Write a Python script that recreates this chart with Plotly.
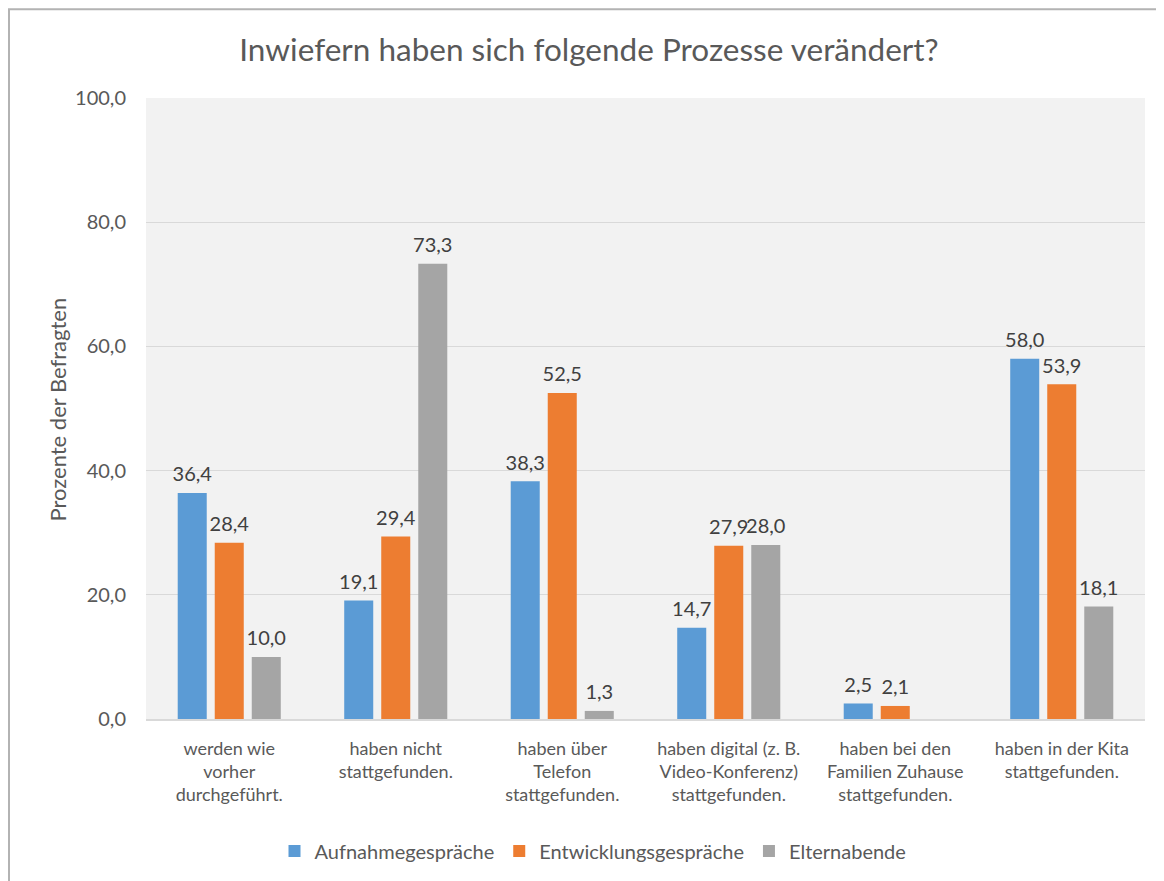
import plotly.graph_objects as go

categories = [
    "werden wie<br>vorher<br>durchgeführt.",
    "haben nicht<br>stattgefunden.",
    "haben über<br>Telefon<br>stattgefunden.",
    "haben digital (z. B.<br>Video-Konferenz)<br>stattgefunden.",
    "haben bei den<br>Familien Zuhause<br>stattgefunden.",
    "haben in der Kita<br>stattgefunden.",
]
aufnahme = [36.4, 19.1, 38.3, 14.7, 2.5, 58.0]
entwicklung = [28.4, 29.4, 52.5, 27.9, 2.1, 53.9]
elternabende = [10.0, 73.3, 1.3, 28.0, None, 18.1]
series_names = ["Aufnahmegespräche", "Entwicklungsgespräche", "Elternabende"]
colors = ["#5b9bd5", "#ed7d31", "#a5a5a5"]

FONT = "Lato"
TXT = "#595959"

# page body has an 8px offset; compensate
OFF = 8
W, H = 1164 - OFF, 881 - OFF
L, T, R, B = 146 - OFF, 98 - OFF, 19, 161
PW, PH = W - L - R, H - T - B

fig = go.Figure()
for i, (name, vals, col) in enumerate(zip(series_names, [aufnahme, entwicklung, elternabende], colors)):
    fig.add_trace(go.Bar(
        x=categories, y=vals, name=name, marker_color=col,
        marker_line_width=0, offsetgroup=str(i),
    ))
for i, (name, vals) in enumerate(zip(series_names, [aufnahme, entwicklung, elternabende])):
    fig.add_trace(go.Scatter(
        x=categories, y=vals, name=name, mode="markers+text",
        offsetgroup=str(i), showlegend=False, hoverinfo="skip",
        marker=dict(size=9, color="rgba(0,0,0,0)"),
        texttemplate="%{y:.1f}", textposition="top center",
        textfont=dict(family=FONT, size=20, color="#404040"),
        cliponaxis=False,
    ))

fig.update_layout(
    width=W, height=H,
    margin=dict(l=L, r=R, t=T, b=B),
    paper_bgcolor="white", plot_bgcolor="#f2f2f2",
    separators=",.",
    barmode="group", bargap=0.333, bargroupgap=0.216,
    scattermode="group", scattergap=0.333,
    font=dict(family=FONT, color=TXT, size=18),
    title=dict(text="Inwiefern haben sich folgende Prozesse verändert?",
               x=(589 - OFF) / W, xref="container", xanchor="center",
               y=1 - (50 - OFF) / H, yref="container", yanchor="middle",
               font=dict(family=FONT, size=31.5, color=TXT)),
    legend=dict(orientation="h", x=(593 - 146) / PW, xanchor="center",
                y=(720 - 851) / PH, yanchor="middle",
                font=dict(family=FONT, size=20, color=TXT), traceorder="normal",
                bgcolor="rgba(0,0,0,0)"),
    showlegend=True,
)
fig.update_yaxes(range=[0, 100], dtick=20, tickformat=".1f",
                 gridcolor="#d9d9d9", gridwidth=1, zeroline=False,
                 showline=False, ticks="", ticklabelstandoff=19,
                 tickfont=dict(family=FONT, size=20, color=TXT))
fig.update_xaxes(showline=True, linecolor="#d9d9d9", linewidth=2, ticks="",
                 ticklabelstandoff=12,
                 tickfont=dict(family=FONT, size=18, color=TXT))
fig.add_annotation(text="Prozente der Befragten", textangle=-90,
                   xref="paper", yref="paper", x=(57 - 146) / PW, y=(720 - 410) / PH,
                   xanchor="center", yanchor="middle", showarrow=False,
                   font=dict(family=FONT, size=22, color=TXT))
fig.add_shape(type="rect", xref="paper", yref="paper",
              x0=(9 - 146) / PW, x1=1.05, y0=-0.3, y1=(720 - 9) / PH,
              line=dict(color="#b3b3b3", width=2), fillcolor="rgba(0,0,0,0)", layer="below")

fig.write_html("out.html")
